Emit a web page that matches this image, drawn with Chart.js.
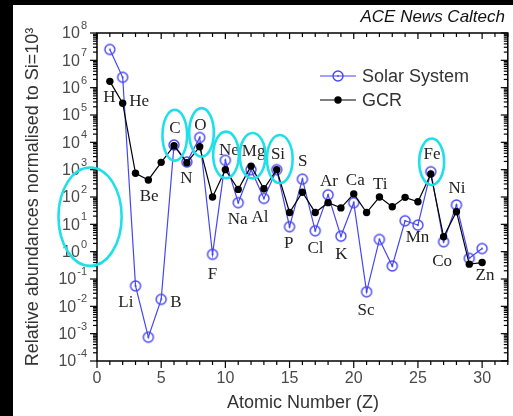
<!DOCTYPE html>
<html>
<head>
<meta charset="utf-8">
<script src="https://cdn.jsdelivr.net/npm/chart.js@4.4.0/dist/chart.umd.min.js"></script>
<style>
  html, body { margin: 0; padding: 0; background: #000; }
  #wrap { position: absolute; left: 13px; top: 5px; width: 500px; height: 411px; background: #fff; }
</style>
</head>
<body>
<div id="wrap"><canvas id="chart" width="500" height="411"></canvas></div>
<script>
'use strict'

// atomic number Z = 1..30
const atomicNumbers = [1, 2, 3, 4, 5, 6, 7, 8, 9, 10, 11, 12, 13, 14, 15, 16, 17, 18, 19, 20, 21, 22, 23, 24, 25, 26, 27, 28, 29, 30]

// abundances normalised to Si = 10^3
const solarSystem = [2.5e7, 2.4e6, 0.056, 7.4e-4, 0.018, 8e3, 1.9e3, 1.5e4, 0.8, 2.2e3, 62, 1e3, 89, 1e3, 8.2,
  450, 5.8, 120, 3.7, 62, 0.034, 2.8, 0.3, 13.5, 9.4, 840, 2.3, 51, 0.57, 1.3]
const gcr = [1.7e6, 2.7e5, 740, 420, 1850, 7.5e3, 1.8e3, 6.9e3, 100, 1e3, 190, 1350, 200, 1e3, 27,
  150, 27, 62, 40, 130, 27, 100, 44, 97, 67, 690, 3.5, 29, 0.35, 0.4]

const xTicks = [0, 5, 10, 15, 20, 25, 30]
const yExponents = [-4, -3, -2, -1, 0, 1, 2, 3, 4, 5, 6, 7, 8]

// element symbols placed in data space: [symbol, Z, log10 value]
const elementLabels = [
  ['H', 0.96, 5.65], ['He', 3.29, 5.49], ['Li', 2.25, -1.85], ['Be', 4.06, 2.01], ['B', 6.14, -1.85],
  ['C', 6.06, 4.51], ['N', 6.97, 2.68], ['O', 8.06, 4.63], ['F', 8.99, -0.82], ['Ne', 10.28, 3.69],
  ['Na', 10.95, 1.18], ['Mg', 12.2, 3.66], ['Al', 12.7, 1.26], ['Si', 14.1, 3.57], ['P', 14.94, 0.31],
  ['S', 16.03, 3.29], ['Cl', 17.02, 0.12], ['Ar', 18.06, 2.56], ['K', 19.04, -0.12], ['Ca', 20.12, 2.62],
  ['Sc', 20.96, -2.16], ['Ti', 22.07, 2.44], ['Mn', 24.97, 0.52], ['Fe', 26.1, 3.54], ['Co', 26.88, -0.37],
  ['Ni', 28.05, 2.32], ['Zn', 30.22, -0.89]
]

// highlight rings: [Z centre, log10 centre, half width in Z, half height in decades]
const highlights = [
  [-0.54, 1.28, 2.46, 1.8], [6.06, 4.26, 0.96, 0.93], [8.14, 4.36, 0.96, 0.89],
  [10.05, 3.54, 1.0, 0.85], [12.12, 3.51, 1.0, 0.83], [14.24, 3.39, 1.0, 0.88], [26.07, 3.29, 0.97, 0.85]
]

const blue = '#4646f5'
const sans = '"Liberation Sans", Arial, sans-serif'
const serif = '"Liberation Serif", "Times New Roman", serif'

function ringDot(color) {
  const c = document.createElement('canvas')
  c.width = c.height = 14
  const g = c.getContext('2d')
  g.strokeStyle = color
  g.lineWidth = 1.4
  g.beginPath()
  g.arc(7, 7, 5, 0, Math.PI * 2)
  g.stroke()
  g.fillStyle = color
  g.beginPath()
  g.arc(7, 7, 0.9, 0, Math.PI * 2)
  g.fill()
  return c
}

const ring = ringDot(blue)

function seg(ctx, x1, y1, x2, y2) {
  ctx.beginPath()
  ctx.moveTo(x1, y1)
  ctx.lineTo(x2, y2)
  ctx.stroke()
}

function drawPow(ctx, exp, xRight, yMid) {
  ctx.font = '16px ' + sans
  const baseW = ctx.measureText('10').width
  ctx.font = '11px ' + sans
  const supW = ctx.measureText(String(exp)).width
  ctx.textAlign = 'left'
  ctx.textBaseline = 'middle'
  ctx.font = '16px ' + sans
  ctx.fillText('10', xRight - supW - baseW - 1, yMid + 1)
  ctx.font = '11px ' + sans
  ctx.fillText(String(exp).replace('-', '\u2011'), xRight - supW, yMid - 7)
}

const decorations = {
  id: 'decorations',
  afterDraw(chart) {
    const { ctx, chartArea: a } = chart
    const x = chart.scales.x
    const y = chart.scales.y
    ctx.save()

    // frame and ticks
    ctx.strokeStyle = '#000'
    ctx.lineWidth = 1.5
    ctx.strokeRect(a.left, a.top, a.right - a.left, a.bottom - a.top)
    ctx.lineWidth = 1.2
    for (let z = 0; z <= 32; z++) {
      const px = x.getPixelForValue(z)
      const major = z % 5 === 0
      seg(ctx, px, a.bottom, px, a.bottom + (major ? 7 : 4))
      seg(ctx, px, a.top, px, a.top + (major ? 6 : 4))
    }
    yExponents.forEach(e => {
      const py = y.getPixelForValue(Math.pow(10, e))
      seg(ctx, a.left - 7, py, a.left, py)
      seg(ctx, a.right - 7, py, a.right, py)
      if (e === 8) return
      for (let m = 2; m <= 9; m++) {
        const pm = y.getPixelForValue(m * Math.pow(10, e))
        seg(ctx, a.left - 4, pm, a.left, pm)
        seg(ctx, a.right - 4, pm, a.right, pm)
      }
    })

    // tick labels
    ctx.fillStyle = '#4a4a4a'
    xTicks.forEach(t => {
      ctx.font = '16px ' + sans
      ctx.textAlign = 'center'
      ctx.textBaseline = 'middle'
      ctx.fillText(String(t), x.getPixelForValue(t), a.bottom + 18)
    })
    yExponents.forEach(e => drawPow(ctx, e, a.left - 10, y.getPixelForValue(Math.pow(10, e))))

    // axis titles
    ctx.fillStyle = '#333'
    ctx.font = '18px ' + sans
    ctx.textAlign = 'center'
    ctx.textBaseline = 'middle'
    ctx.fillText('Atomic Number (Z)', 290, 398)
    ctx.save()
    ctx.translate(20, 192)
    ctx.rotate(-Math.PI / 2)
    ctx.fillText('Relative abundances normalised to Si=10\u00b3', 0, 0)
    ctx.restore()

    ctx.fillStyle = '#111'
    ctx.font = 'italic 17px ' + sans
    ctx.textAlign = 'right'
    ctx.fillText('ACE News Caltech', 492, 12)

    // element symbols
    ctx.fillStyle = '#222'
    ctx.font = '17px ' + serif
    ctx.textAlign = 'center'
    elementLabels.forEach(([s, z, lg]) => {
      ctx.fillText(s, x.getPixelForValue(z), y.getPixelForValue(Math.pow(10, lg)))
    })

    // legend
    const lx = 307
    const rows = [[71, 'Solar System', blue, true], [95, 'GCR', '#000', false]]
    rows.forEach(([ly, text, color, open]) => {
      ctx.strokeStyle = color
      ctx.lineWidth = 1.2
      seg(ctx, lx, ly, lx + 36, ly)
      if (open) {
        ctx.drawImage(ring, lx + 18 - 7, ly - 7)
      } else {
        ctx.fillStyle = '#000'
        ctx.beginPath()
        ctx.arc(lx + 18, ly, 3.7, 0, Math.PI * 2)
        ctx.fill()
      }
      ctx.fillStyle = '#333'
      ctx.font = '18px ' + sans
      ctx.textAlign = 'left'
      ctx.fillText(text, lx + 42, ly + 1)
    })

    // cyan highlight rings
    ctx.strokeStyle = '#1fe0e8'
    ctx.lineWidth = 2.6
    highlights.forEach(([z, lg, dz, dlg]) => {
      const cx = x.getPixelForValue(z)
      const cy = y.getPixelForValue(Math.pow(10, lg))
      const rx = x.getPixelForValue(z + dz) - cx
      const ry = cy - y.getPixelForValue(Math.pow(10, lg + dlg))
      ctx.beginPath()
      ctx.ellipse(cx, cy, rx, ry, 0, 0, Math.PI * 2)
      ctx.stroke()
    })

    ctx.restore()
  }
}

new Chart(document.getElementById('chart').getContext('2d'), {
  type: 'line',
  data: {
    labels: atomicNumbers,
    datasets: [{
      label: 'Solar System',
      data: atomicNumbers.map((z, i) => ({ x: z, y: solarSystem[i] })),
      borderColor: blue,
      borderWidth: 1.2,
      pointStyle: ring,
      order: 2
    }, {
      label: 'GCR',
      data: atomicNumbers.map((z, i) => ({ x: z, y: gcr[i] })),
      borderColor: '#000',
      backgroundColor: '#000',
      borderWidth: 1.2,
      pointRadius: 3.7,
      pointBorderWidth: 0,
      order: 1
    }]
  },
  options: {
    responsive: false,
    animation: false,
    layout: { padding: { left: 84, top: 28, right: 5, bottom: 55 } },
    plugins: { legend: { display: false }, tooltip: { enabled: false } },
    scales: {
      x: { type: 'linear', min: 0, max: 32, display: false },
      y: { type: 'logarithmic', min: 1e-4, max: 1e8, display: false }
    }
  },
  plugins: [decorations]
})
</script>
</body>
</html>
